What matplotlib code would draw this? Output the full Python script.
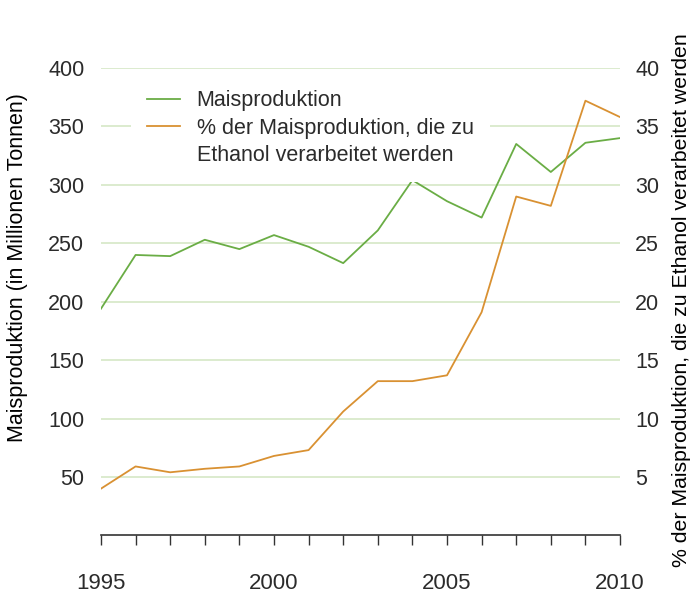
import matplotlib.pyplot as plt
from matplotlib.lines import Line2D

# Data
years = list(range(1995, 2011))
mais = [194, 240, 239, 253, 245, 257, 247, 233, 261, 304, 286, 272, 335, 311, 336, 340]
ethanol_pct = [4.0, 5.9, 5.4, 5.7, 5.9, 6.8, 7.3, 10.6, 13.2, 13.2, 13.7, 19.1, 29.0, 28.2, 37.2, 35.8]

left_ticks = [50, 100, 150, 200, 250, 300, 350, 400]
right_ticks = [5, 10, 15, 20, 25, 30, 35, 40]
year_labels = [1995, 2000, 2005, 2010]

green = '#6aad45'
orange = '#d99132'
grid_color = '#d6e8c6'
text_color = '#2b2b2b'
fs = 15.5

plt.rcParams['font.family'] = ['Liberation Sans', 'DejaVu Sans']
plt.rcParams['text.color'] = text_color

fig = plt.figure(figsize=(6.93, 5.98), dpi=100)
ax = fig.add_axes([0.1457, 0.1047, 0.749, 0.7816])
ax2 = ax.twinx()

l1, = ax.plot(years, mais, color=green, lw=1.3)
l2, = ax2.plot(years, ethanol_pct, color=orange, lw=1.3)

ax.set_xlim(1995, 2010)
ax.set_ylim(0, 400)
ax2.set_ylim(0, 40)

ax.set_yticks(left_ticks)
ax2.set_yticks(right_ticks)
ax.yaxis.grid(True, color=grid_color, lw=1.2)
ax.set_axisbelow(True)

ax.set_xticks(years)
ax.set_xticklabels([str(y) if y in year_labels else '' for y in years])

for a in (ax, ax2):
    for s in ('top', 'left', 'right'):
        a.spines[s].set_visible(False)
ax2.spines['bottom'].set_visible(False)
ax.spines['bottom'].set_color('#333333')
ax.spines['bottom'].set_linewidth(1.2)

ax.tick_params(axis='x', direction='out', length=7, width=1, color='#333333',
               pad=20, labelsize=16, labelcolor=text_color)
ax.tick_params(axis='y', length=0, pad=12, labelsize=fs, labelcolor=text_color)
ax2.tick_params(axis='y', length=0, pad=11, labelsize=fs, labelcolor=text_color)

ax.set_ylabel('Maisproduktion (in Millionen Tonnen)', fontsize=fs)
ax.yaxis.set_label_coords(-0.14, 0.574)
ax2.set_ylabel('% der Maisproduktion, die zu Ethanol verarbeitet werden', fontsize=15.3,
               rotation=90)
ax2.yaxis.set_label_coords(1.1, 0.504)

blank = Line2D([], [], color='none')
leg = ax2.legend([l1, l2, blank],
                 ['Maisproduktion', '% der Maisproduktion, die zu', 'Ethanol verarbeitet werden'],
                 loc='upper left', bbox_to_anchor=(0.058, 0.987), borderaxespad=0, fontsize=fs,
                 frameon=True, facecolor='white', edgecolor='none', framealpha=1,
                 handlelength=1.5, handletextpad=0.8, borderpad=0.75, labelspacing=0.3,
                 fancybox=False)

fig.savefig('out.png', dpi=100)
